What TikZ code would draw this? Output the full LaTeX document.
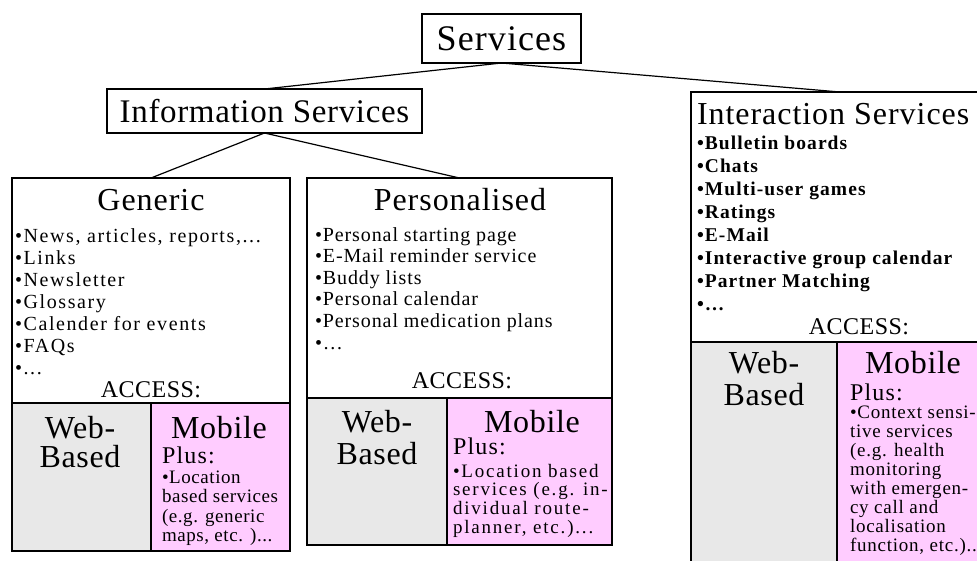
\documentclass[tikz,border=0pt]{standalone}
\usepackage{fontspec}
\setmainfont{Liberation Serif}
\definecolor{webgray}{HTML}{E8E8E8}
\definecolor{mobpink}{HTML}{FFCCFF}
\newcommand\fnt[3]{\fontsize{#1}{#2}\selectfont\addfontfeatures{LetterSpace=#3}}
\newcommand\dd{...}
\tikzset{
  box/.style={draw, line width=1.2pt, inner sep=0pt, outer sep=0pt},
  conn/.style={line width=1.2pt},
  txt/.style={inner sep=0pt, outer sep=0pt},
  ttl/.style={txt, anchor=base, font=\fnt{32}{36}{3}},
  itm/.style={txt, anchor=base west, font=\fnt{20}{22}{#1}},
  bitm/.style={txt, anchor=base west, font=\bfseries\fnt{19.5}{23}{5.5}},
  acc/.style={txt, anchor=base, font=\fnt{24}{26}{2}},
  big/.style={txt, anchor=base, font=\fnt{32}{30}{2}},
  plus/.style={txt, anchor=base west, font=\fnt{24}{26}{5}},
  mitm/.style={txt, anchor=base west, font=\fnt{19}{19}{#1}},
}
\begin{document}
\begin{tikzpicture}[x=1pt,y=-1pt]
\useasboundingbox (0,0) rectangle (977,560);
\clip (0,0) rectangle (977,560);

% fills
\fill[webgray] (12,403) rectangle (151,551);
\fill[mobpink] (151,403) rectangle (290,551);
\fill[webgray] (307,398) rectangle (447,545);
\fill[mobpink] (447,398) rectangle (612,545);
\fill[webgray] (691,342) rectangle (837,620);
\fill[mobpink] (837,342) rectangle (989,620);

% boxes
\node[box, minimum width=159pt, minimum height=49pt, font=\fnt{36}{40}{3}] (svc) at (501.5,38.5) {Services};
\node[box, minimum width=315pt, minimum height=44pt, font=\fnt{33}{36}{2}] (info) at (264.5,111) {Information Services};
\node[box, minimum width=278pt, minimum height=373pt] (gen) at (151,364.5) {};
\node[box, minimum width=305pt, minimum height=367pt] (pers) at (459.5,361.5) {};
\node[box, minimum width=298pt, minimum height=528pt] (inter) at (840,356) {};

% connectors
\draw[conn] (svc.south) -- (info.north);
\draw[conn] (svc.south) -- (inter.north);
\draw[conn] (info.south) -- (gen.north);
\draw[conn] (info.south) -- (pers.north);

% dividers
\draw[line width=1.2pt] (12,403) -- (290,403) (151,403) -- (151,551);
\draw[line width=1.2pt] (307,398) -- (612,398) (447,398) -- (447,545);
\draw[line width=1.2pt] (691,342) -- (989,342) (837,342) -- (837,620);

% Generic
\node[ttl] (gt) at (151,210) {Generic};
\foreach \t [count=\i] in {{•News, articles, reports,\dd}, {•Links}, {•Newsletter}, {•Glossary}, {•Calender for events}, {•FAQs}, {•\dd}}
  \node[itm=8] (gi\i) at (15,{242+22*(\i-1)}) {\t};
\node[acc] (ga) at (151,397) {ACCESS:};
\node[big] (gw1) at (80,438) {Web-};
\node[big] (gw2) at (80,467) {Based};
\node[big] (gm) at (219,438) {Mobile};
\node[plus] (gp) at (162,463) {Plus:};
\foreach \t [count=\i] in {{•Location}, {based services}, {(e.g. generic}, {maps, etc. )\dd}}
  \node[mitm=3] (gmi\i) at (162,{483+19.5*(\i-1)}) {\t};

% Personalised
\node[ttl] (pt) at (460,210) {Personalised};
\foreach \t [count=\i] in {{•Personal starting page}, {•E-Mail reminder service}, {•Buddy lists}, {•Personal calendar}, {•Personal medication plans}, {•…}}
  \node[itm=4.5] (pi\i) at (315,{241+21.6*(\i-1)}) {\t};
\node[acc] (pa) at (462,388) {ACCESS:};
\node[big] (pw1) at (377,432) {Web-};
\node[big] (pw2) at (377,464) {Based};
\node[big] (pm) at (532,432) {Mobile};
\node[plus] (pp) at (453,454) {Plus:};
\foreach \t [count=\i] in {{•Location based}, {services (e.g. in-}, {dividual route-}, {planner, etc.)\dd}}
  \node[mitm=9.5] (pmi\i) at (453,{477+18.8*(\i-1)}) {\t};

% Interaction
\node[ttl, anchor=base west] (it) at (697,124) {Interaction Services};
\foreach \t [count=\i] in {{•Bulletin boards}, {•Chats}, {•Multi-user games}, {•Ratings}, {•E-Mail}, {•Interactive group calendar}, {•Partner Matching}, {•…}}
  \node[bitm] (ii\i) at (697,{149+23*(\i-1)}) {\t};
\node[acc] (ia) at (859,334) {ACCESS:};
\node[big] (iw1) at (764,373) {Web-};
\node[big] (iw2) at (764,405) {Based};
\node[big] (im) at (913,373) {Mobile};
\node[plus] (ip) at (850,400) {Plus:};
\foreach \t [count=\i] in {{•Context sensi-}, {tive services}, {(e.g. health}, {monitoring}, {with emergen-}, {cy call and}, {localisation}, {function, etc.)\dd}}
  \node[mitm=4] (imi\i) at (850,{418+19*(\i-1)}) {\t};
\end{tikzpicture}
\end{document}
